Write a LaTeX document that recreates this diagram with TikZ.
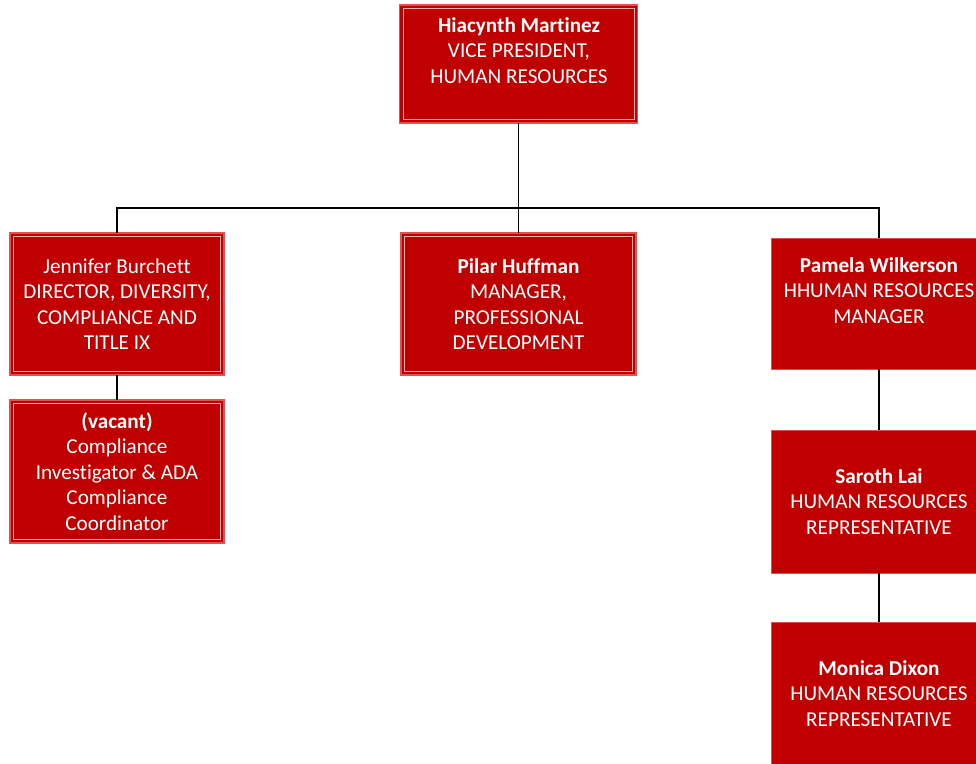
\documentclass[tikz,border=0pt]{standalone}
\usepackage{fontspec}
\setmainfont{Carlito}[Ligatures=NoCommon]
\definecolor{boxred}{RGB}{192,0,0}
\definecolor{edgered}{RGB}{228,80,80}
\definecolor{innerpink}{RGB}{240,175,175}
\begin{document}
\begin{tikzpicture}[x=1pt,y=-1pt,
  every node/.style={font=\fontsize{21.2}{25.5}\selectfont},
  plainbox/.style={rectangle, fill=boxred, draw=edgered, line width=1pt,
    inner sep=0pt, outer sep=0pt, text=white, align=center},
  framedbox/.style={plainbox, line width=1.6pt,
    path picture={\draw[innerpink, line width=0.8pt]
      ([shift={(3.6pt,3.6pt)}]path picture bounding box.south west) rectangle
      ([shift={(-3.6pt,-3.6pt)}]path picture bounding box.north east);}},
  label/.style={text=white, align=center, inner sep=0pt},
  conn/.style={draw=black, line width=1.4pt}]
\useasboundingbox (0,0) rectangle (976,763);
\clip (0,0) rectangle (976,763);

% boxes
\node[framedbox, minimum width=238pt, minimum height=118pt] (top) at (518.5,64) {};
\node[label] (topT) at (519,50.5) {\textbf{Hiacynth Martinez}\\VICE PRESIDENT,\\ HUMAN RESOURCES};

\node[framedbox, minimum width=214pt, minimum height=142pt] (jen) at (117,304)
  {Jennifer Burchett\\DIRECTOR, DIVERSITY,\\COMPLIANCE AND\\TITLE IX};

\node[framedbox, minimum width=235pt, minimum height=142pt] (pil) at (518.5,304)
  {\textbf{Pilar Huffman}\\MANAGER,\\PROFESSIONAL\\DEVELOPMENT};

\node[plainbox, minimum width=216pt, minimum height=131pt] (pam) at (879,303.5) {};
\node[label] (pamT) at (879,290.5) {\textbf{Pamela Wilkerson}\\HHUMAN RESOURCES\\MANAGER};

\node[framedbox, minimum width=214pt, minimum height=143pt] (vac) at (117,471.5)
  {\textbf{(vacant)}\\Compliance\\Investigator \& ADA\\Compliance\\Coordinator};

\node[plainbox, minimum width=216pt, minimum height=143pt] (sar) at (879,501.5)
  {\textbf{Saroth Lai}\\HUMAN RESOURCES\\REPRESENTATIVE};

\node[plainbox, minimum width=216pt, minimum height=143pt] (mon) at (879,693.5)
  {\textbf{Monica Dixon}\\HUMAN RESOURCES\\REPRESENTATIVE};

% connectors
\coordinate (busR) at (879,208);
\draw[conn] (top.south) -- (pil.north);
\draw[conn] (jen.north) |- (busR) -- (pam.north);
\draw[conn] (jen.south) -- (vac.north);
\draw[conn] (pam.south) -- (sar.north);
\draw[conn] (sar.south) -- (mon.north);
\end{tikzpicture}
\end{document}
